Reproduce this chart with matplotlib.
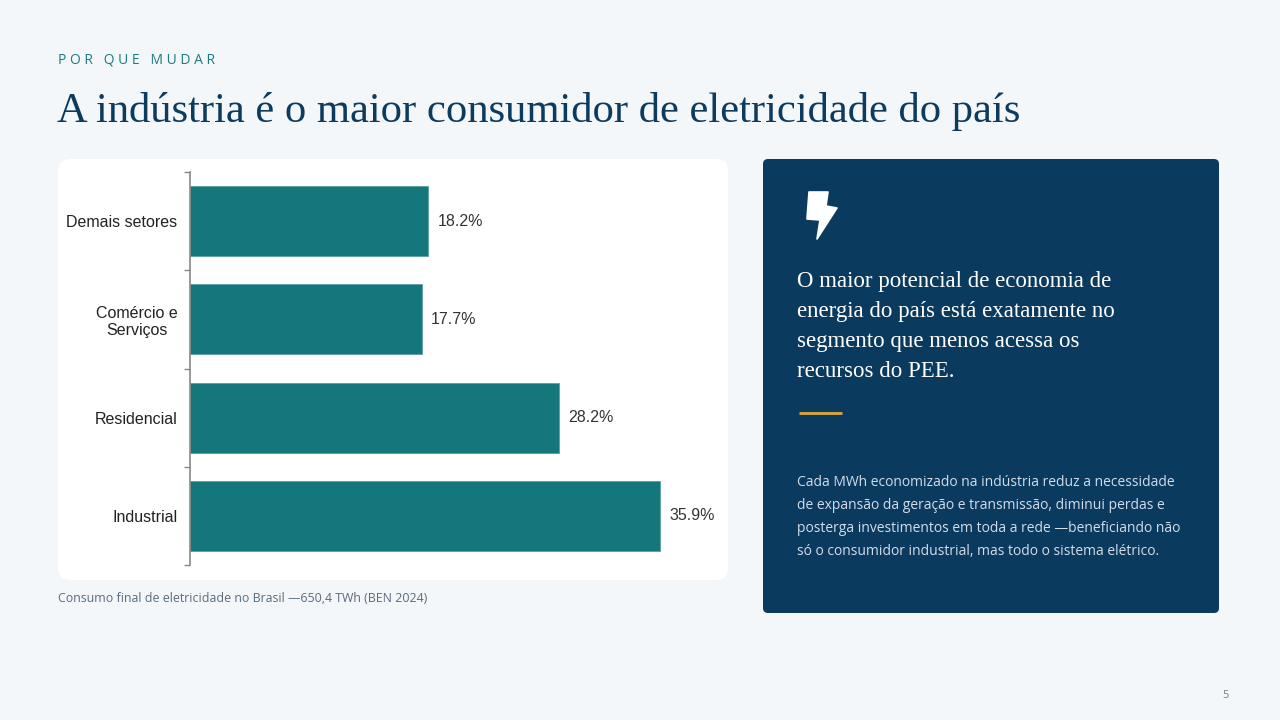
import matplotlib.pyplot as plt
from matplotlib.patches import FancyBboxPatch, Polygon

# data
categories = ['Industrial', 'Residencial', 'Comércio e\nServiços', 'Demais setores']
shares = [35.9, 28.2, 17.7, 18.2]
value_labels = ['35.9%', '28.2%', '17.7%', '18.2%']

quote_lines = ['O maior potencial de economia de',
               'energia do país está exatamente no',
               'segmento que menos acessa os',
               'recursos do PEE.']
body_lines = ['Cada MWh economizado na indústria reduz a necessidade',
              'de expansão da geração e transmissão, diminui perdas e',
              'posterga investimentos em toda a rede —beneficiando não',
              'só o consumidor industrial, mas todo o sistema elétrico.']

bg = '#f4f7fa'
navy = '#0b3a5f'
teal = '#13777c'

fig = plt.figure(figsize=(12.8, 7.2), dpi=100, facecolor=bg)

# background layer in pixel coords
bgax = fig.add_axes([0, 0, 1, 1])
bgax.set_xlim(0, 1280)
bgax.set_ylim(720, 0)
bgax.axis('off')

card = FancyBboxPatch((58, 159), 670, 421, boxstyle='round,pad=0,rounding_size=12',
                      facecolor='white', edgecolor='none')
bgax.add_patch(card)
panel = FancyBboxPatch((763, 159), 456, 454, boxstyle='round,pad=0,rounding_size=5',
                       facecolor=navy, edgecolor='none')
bgax.add_patch(panel)

# header
bgax.text(58, 60, 'P O R   Q U E   M U D A R', fontsize=10, color='#1a7b80',
          family='Open Sans', va='center', ha='left')
bgax.text(57, 122, 'A indústria é o maior consumidor de eletricidade do país',
          fontsize=30.7, color='#0d3b5e', family='Liberation Serif', va='baseline', ha='left')

# lightning icon
bolt = Polygon([(809, 192), (828, 192), (826, 206), (837, 208), (817, 239),
                (820, 220), (807, 219)], closed=True, facecolor='white', edgecolor='white',
               linewidth=1.2, joinstyle='round')
bgax.add_patch(bolt)

for i, line in enumerate(quote_lines):
    bgax.text(797, 287 + 30 * i, line, fontsize=16.5, color='white',
              family='Liberation Serif', va='baseline', ha='left')

bgax.plot([799, 842], [413, 413], color='#e3a53a', linewidth=2, solid_capstyle='butt')

for i, line in enumerate(body_lines):
    bgax.text(797, 486 + 23 * i, line, fontsize=10, color='#d3dde8',
              family='Open Sans', va='baseline', ha='left')

bgax.text(58, 598, 'Consumo final de eletricidade no Brasil —650,4 TWh (BEN 2024)',
          fontsize=8.9, color='#5b6b7b', family='Open Sans', va='center', ha='left')
bgax.text(1226, 695, '5', fontsize=8, color='#6f7f8f', family='Open Sans',
          va='center', ha='center')

# chart
ax = fig.add_axes([190 / 1280, (720 - 565) / 720, 524 / 1280, 393 / 720])
ax.set_facecolor('none')
ypos = list(range(len(categories)))
ax.barh(ypos, shares, height=0.71, color=teal, edgecolor='#5d9ea2', linewidth=0.6)
for y, v, lab in zip(ypos, shares, value_labels):
    ax.text(v + 0.7, y, lab, va='center', ha='left', fontsize=11.5,
            color='#333333', family='Liberation Sans')
ax.set_xlim(0, 40)
ax.set_ylim(-0.5, 3.5)
ax.set_yticks(ypos)
ax.set_yticklabels(categories, family='Liberation Sans', fontsize=11.5, color='#222222',
                   multialignment='center')
ax.tick_params(axis='y', which='major', length=0, pad=9)
ax.set_yticks([-0.5, 0.5, 1.5, 2.5, 3.5], minor=True)
ax.tick_params(axis='y', which='minor', length=4, width=1, color='#888888')
ax.set_xticks([])
for s in ['top', 'right', 'bottom']:
    ax.spines[s].set_visible(False)
ax.spines['left'].set_color('#888888')
ax.spines['left'].set_linewidth(1.2)

fig.savefig('out.png', dpi=100, facecolor=bg)
